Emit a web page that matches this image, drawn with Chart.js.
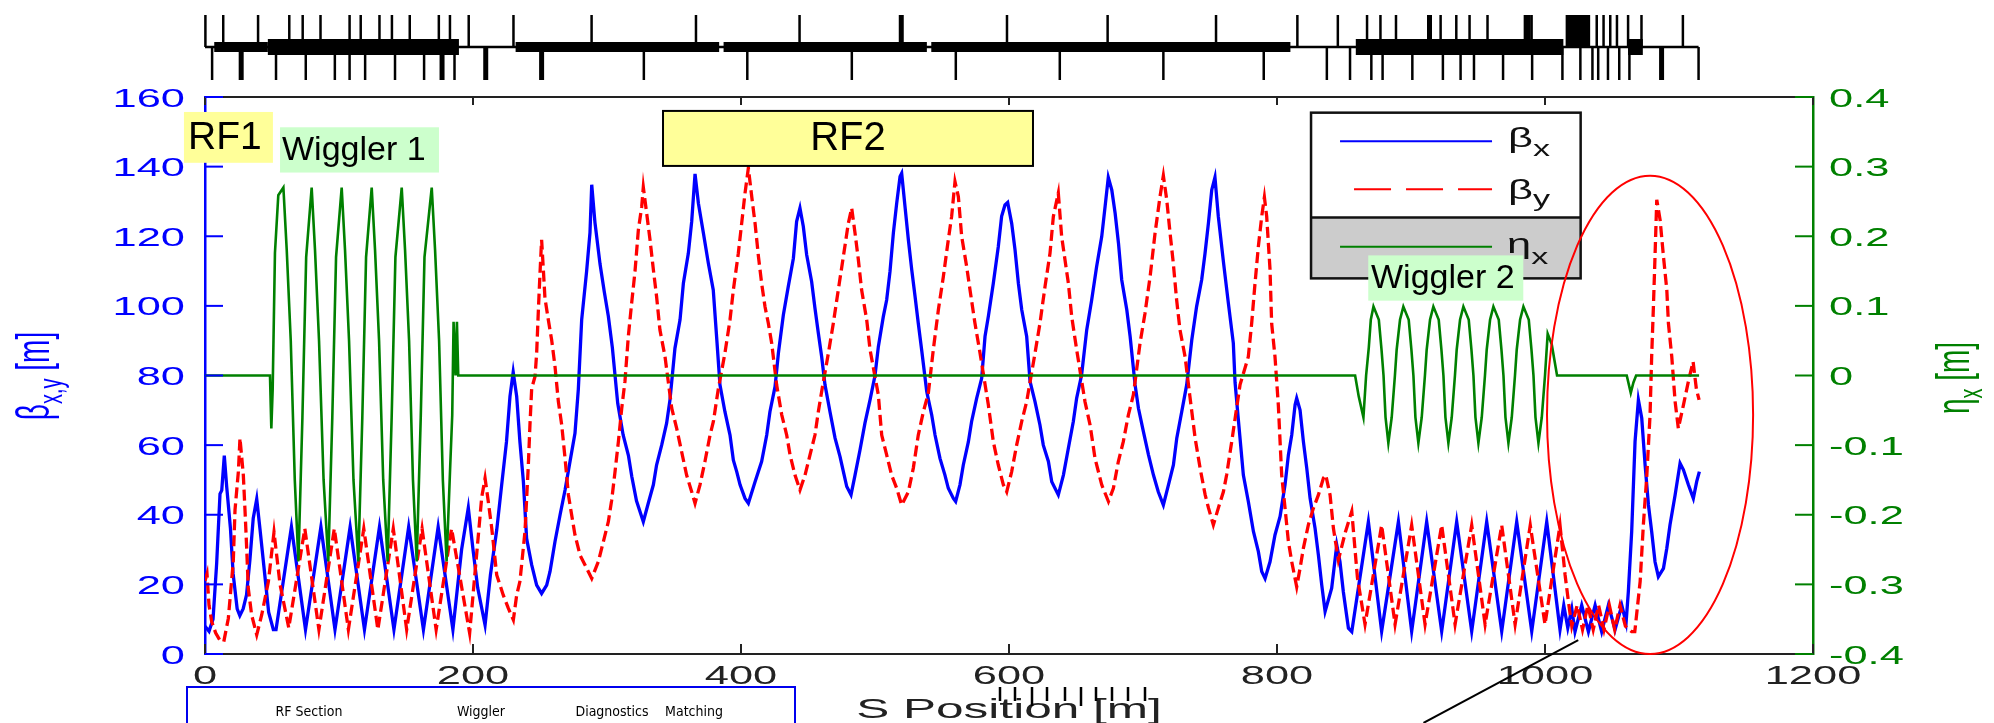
<!DOCTYPE html>
<html lang=en>
<head>
<meta charset=UTF-8>
<title>Beta and dispersion functions</title>
<script src="https://cdn.jsdelivr.net/npm/chart.js"></script>
<style>
    * { margin: 0; padding: 0; }
    body { background: #fff; width: 1994px; height: 723px; overflow: hidden; }
    canvas { display: block; }
</style>
</head>
<body>
<canvas id="optics" width="1994" height="723"></canvas>
<script>
// optics along the line: [s (m), value]
const betaX = [
    [0, 8], [3, 6.5], [6, 10], [8.7, 26], [11.2, 46], [12.5, 47], [14.4, 57], [16.2, 48], [19, 36], [21, 23], [24, 13], [26, 11], [28.5, 13], [31, 17], [33.5, 27], [36, 39], [38.6, 44.5], [41, 36], [44, 25], [47.5, 12], [51, 7],
    [53, 7], [64.5, 36.5], [75, 7], [86.5, 36.5], [97, 7], [108.3, 36.5], [119, 7], [130.2, 36.5], [141, 7], [152, 36.5], [163, 7], [174, 36.5], [185, 7],
    [191.5, 30], [196.5, 42], [200, 30], [203.5, 19], [209, 8.3], [213, 22.7], [217.7, 35.6], [221.4, 48.6], [225, 61], [227.6, 74], [230, 81], [232.6, 74], [235, 61], [237.6, 49.5], [240, 33.2], [243.8, 25.6], [247.5, 19.8], [251.2, 17.4],
    [255, 19.8], [257.5, 23.7], [261.2, 32.3], [265, 40], [268.7, 47.1], [272.4, 55.3], [276.1, 63.4], [278.6, 76], [281.1, 96], [284.8, 110], [287.3, 121], [288.6, 134.8],
    [291, 124], [294.8, 112], [298, 104], [301, 97], [304, 88], [308, 72], [312, 63], [316, 57], [318.5, 51], [322, 44], [327.1, 38],
    [330.8, 43.3], [334.6, 48.6], [337, 54.3], [340.8, 60], [344.5, 66.3], [347, 73], [350.7, 87.8], [354.5, 96], [357, 106.5], [360.7, 115.1], [363.2, 124.2], [365.7, 137.9],
    [368.2, 129.5], [371.9, 121], [375.6, 112.3], [379.3, 104.6], [382, 90], [384.3, 77.3], [388, 69.6], [391.8, 62.9], [394.3, 55.7], [396.8, 52.4], [399.3, 48.6], [403, 44.7], [405.5, 43.3],
    [410.5, 49.5], [415.4, 55.3], [419.2, 62.9], [421.6, 69.6], [425.4, 76.8], [427.9, 86.4], [431.6, 97.4], [435.3, 105.6], [439.1, 113.7], [441.5, 124.2], [444, 128.1],
    [446.5, 122.8], [449, 114.7], [452.7, 107], [455.2, 99.3], [457.7, 92.2], [460.2, 85.4], [462.7, 77.3], [466.4, 69.6], [470.2, 62], [473.9, 56.7], [476.4, 52.4], [478.9, 48.1], [482.1, 45.7],
    [485.1, 51.4], [488.8, 58.6], [492.5, 66.3], [496.3, 73], [500, 80], [502.5, 88.3], [506.2, 96.9], [508.7, 101.7], [511.2, 109.9], [513.7, 120.9], [516.2, 129.5], [518.7, 137.2], [519.9, 138.1],
    [522.4, 128.5], [524.9, 119], [527.4, 110.4], [529.9, 102.7], [532.3, 95], [534.8, 87.4], [538.6, 75.4], [542.3, 68.7], [544.8, 62.9], [548.5, 56.2], [552.2, 51.4], [554.7, 47.6], [558.5, 44.7], [560.2, 43.8],
    [563.4, 48.6], [565.9, 54.3], [569.7, 61], [572.1, 66.8], [575.9, 73.5], [579.6, 79.2], [582.1, 91.2], [584.6, 97], [588.3, 106.5], [592, 117], [594.5, 125.7], [597, 129], [599, 129.7],
    [602, 123.7], [604.5, 116.1], [607, 106.5], [609.5, 98.9], [613.2, 91.2], [615.7, 78.3], [619.4, 72.5], [623.1, 65.8], [625.6, 60], [629.4, 55.3], [631.9, 49.5], [636.8, 45.7],
    [640.6, 51.4], [644.3, 59.1], [648, 66.8], [650.5, 73.5], [654.2, 80.2], [658, 93.1], [661.7, 101.7], [665.4, 111.3], [669.2, 119.9], [671.7, 128.5], [674.1, 136.9],
    [676.7, 133.3], [679.2, 126.6], [681.7, 118], [684.1, 107.5], [687.9, 98.9], [690.4, 91.2], [694.1, 77.3], [696.6, 70.6], [700.3, 63.9], [704.1, 57.2], [707.8, 51.4], [711.4, 46.6], [715.2, 42.8],
    [719, 48.6], [722.7, 54.3], [725.2, 62], [728.9, 69.6], [732.6, 77.3], [736.4, 90.2], [740, 99.8], [743.8, 107.5], [746.3, 115.1], [748.8, 123.7], [751.3, 133.3], [753.7, 136.9],
    [756.2, 125.7], [760, 112.7], [763.7, 100.8], [767.4, 89.3], [768.7, 78], [771, 68], [774.9, 51.4], [778.6, 43.8], [782.4, 35.2], [786.1, 29.4], [788.6, 23.7], [791.1, 21.7],
    [794.8, 26.5], [798.5, 34.2], [802.3, 39.5], [806, 48.6], [808.5, 57.2], [811, 62.9], [813.5, 71.6], [814.7, 73.5],
    [817.2, 70.1], [819.7, 61], [822.2, 53.4], [824.7, 44.7], [828.4, 36.1], [830.9, 28.4], [833.4, 19.8], [835.9, 12.2],
    [840.8, 18.9], [844.6, 31.3], [847, 26.5], [849.5, 17.9], [853.3, 7.4], [855.8, 6.4],
    [868.2, 38], [878.1, 6.5], [890.6, 38], [900.5, 6.5], [911.7, 38], [922.9, 6.5], [934.1, 38], [945.3, 6.5], [956.5, 38], [967.7, 6.5], [978.9, 38], [990.1, 6.5], [1001.3, 38], [1011.2, 7],
    [1014, 14], [1017, 7.5], [1020, 13], [1022.4, 6.4], [1027.4, 14], [1032.4, 6.4], [1037.4, 14], [1042.3, 6.4], [1047.3, 14], [1052.3, 7], [1057.3, 14], [1060.5, 9],
    [1062.2, 17.9], [1064.7, 35.2], [1067.2, 61], [1069.7, 73], [1072.2, 67.7], [1074.7, 54.3], [1077.2, 42.8], [1079.6, 35.2], [1082.1, 26.5], [1084.6, 22.2],
    [1088.4, 24.6], [1090.9, 30.4], [1093.3, 37.1], [1097.1, 45.7], [1100.8, 54.8], [1103.3, 52.9], [1107, 48.6], [1110.7, 44.7], [1113.2, 49.5], [1115.2, 52.4]
];

const betaY = [
    [0, 21], [1.5, 23], [3, 14], [5, 9.3], [8, 6], [11, 4], [14, 3.5], [17.4, 10.2], [21.1, 26.5], [22.4, 41.4], [24.9, 52.4], [26.1, 62], [28.6, 51.4], [29.9, 40.9], [31.1, 30.4], [32.3, 18.9], [34.8, 11.2], [38.6, 5.5], [42.3, 11.2], [47.3, 20.8], [51.5, 35], [56, 20], [62.5, 7.5],
    [74.5, 36], [85, 7], [96.5, 36], [107, 7], [118.5, 36], [129, 7], [140.5, 36], [150.5, 7], [162, 36], [172.5, 7], [184, 36], [197.5, 6],
    [206.5, 45], [209, 50.5], [211.4, 43.8], [214, 36.1], [217.7, 22.7], [222.6, 16.9], [226.4, 13.1], [230.1, 9.8], [232.6, 16.9], [235, 20.8], [238.8, 35.2], [241.3, 54.3], [242.5, 65.8], [243.8, 76.3], [246.3, 79.7], [247.5, 86.4], [248.8, 98.9], [250, 109.4], [251.2, 119],
    [252.5, 110.4], [253.7, 102.2], [256.2, 96], [258.7, 90.2], [261.2, 82.6], [263.7, 72.5], [266.2, 65.8], [268.7, 56.2], [271.2, 45.7], [273.6, 40], [276.1, 34.2], [279.9, 28.4], [283.6, 25.6], [288.6, 21.7],
    [293.5, 26.5], [297.3, 32.3], [301, 38], [303.5, 44.2], [306, 52.4], [308.5, 61], [311, 70.6], [313.4, 78.3], [315.9, 91.2], [318.4, 100.8], [320.9, 109.9], [323.4, 121.8], [325.9, 128.5], [327.1, 134.1],
    [329.6, 126.6], [332.1, 119], [334.6, 110.4], [337, 102.7], [339.5, 93.1], [343.3, 85.4], [348.3, 70.6], [352, 64.8], [355.7, 58.1], [359.4, 51.4], [363.2, 46.6], [365.7, 43.3],
    [369.4, 48.6], [373.1, 55.3], [376.9, 62.9], [379.4, 66.8], [383, 76], [388, 86.4], [391.8, 96], [394.3, 104.6], [398, 115.1], [400.5, 123.7], [403, 132.4], [405.5, 139.6],
    [408, 131.4], [410.5, 123.7], [413, 114.2], [415.4, 106.5], [417.9, 99.8], [420.4, 95], [422.9, 89.3], [426.6, 77.3], [430.4, 68.7], [434.1, 62.9], [436.6, 57.2], [440.3, 51.4], [444, 47.1],
    [447.8, 51.4], [451.5, 57.2], [455.2, 62.9], [457.7, 69.6], [460.2, 75.4], [465.2, 86.4], [468.9, 95], [472.6, 104.6], [476.4, 114.2], [480.1, 123.7], [482.6, 128.1],
    [485.1, 120.9], [487.6, 113.2], [490, 104.6], [493.8, 96], [496.3, 87.4], [502.5, 74.4], [505, 62.9], [508.7, 57.2], [512.4, 51.4], [516.2, 47.6], [519.9, 42.8],
    [524.9, 46.6], [528.6, 53.4], [532.3, 62.9], [536.1, 69.6], [539.8, 74.9], [543.5, 87.4], [547.3, 98.9], [551, 108.4], [554.7, 119], [557.2, 125.7], [559.7, 135.7],
    [562.2, 131.4], [564.7, 119.9], [568.4, 111.3], [570.9, 104.6], [574.6, 95], [578.4, 86.4], [584.6, 71.5], [588.3, 61], [592, 54.3], [595.8, 48.6], [598.3, 46.6],
    [602, 52.4], [605.7, 60], [609.5, 66.8], [613.2, 72.5], [619.4, 86.4], [623.1, 95], [626.9, 105.6], [630.6, 115.1], [633.1, 125.7], [636.8, 132.4],
    [639.3, 119.9], [641.8, 113.2], [644.3, 106.5], [646.8, 96.9], [650.5, 87.4], [656.7, 72.5], [660.5, 65.8], [664.2, 56.2], [669.2, 48.6], [674.2, 43.8],
    [677.9, 47.6], [681.6, 55.3], [685.3, 61], [689.1, 68.7], [692.8, 74.4], [697.8, 89.3], [701.5, 97.9], [705.3, 108.4], [709, 120.9], [712.7, 131.4], [715.2, 137.4],
    [717.7, 130.5], [720.2, 120.9], [722.6, 112.3], [725.1, 101.7], [727.6, 93.1], [731.4, 85.4], [735, 74], [738.9, 62], [742.6, 53.4], [746.4, 45.7], [748.9, 41.9], [752.5, 37.1],
    [756.2, 41.9], [760, 46.6], [762.4, 51.4], [766.2, 61], [772.4, 77.3], [778.6, 85.4], [781.1, 95], [783.6, 106.5], [786.1, 117.1], [788.6, 125.7], [790.6, 131.2],
    [792.3, 125.7], [794.8, 110.4], [796, 95], [798.5, 85.4], [801, 71.5], [802.3, 61], [803.5, 51.4], [806, 41.9], [808.5, 32.3], [811, 26.5], [814.7, 19.3],
    [817.2, 24.6], [819.7, 30.4], [823.4, 37.1], [827.2, 41.9], [830.9, 45.7], [834.6, 50.5], [836.4, 51.4],
    [839.6, 45.7], [842.1, 36.1], [845.8, 27], [851, 35], [855.8, 41], [860, 22], [865.7, 8.5],
    [878.1, 37], [888.1, 8.5], [900.5, 37], [910.5, 8.5], [922.9, 37], [932.9, 8.5], [945.3, 37], [955.3, 8.5], [967.7, 37], [977.7, 8.5], [989, 37], [1000, 8.5], [1011.2, 37],
    [1015, 22.7], [1017.5, 15], [1020, 8], [1024, 14], [1028, 7], [1032, 14], [1036, 7], [1040, 14], [1044, 7], [1048, 14], [1052, 7], [1056, 14], [1060, 8], [1064.7, 6.4], [1067, 6.4],
    [1071, 20.8], [1073.4, 37.1], [1076, 51.4], [1078.4, 68.7], [1079.6, 85.4], [1080.9, 99.8], [1082.1, 114.2], [1083.4, 130.5],
    [1085.9, 124.7], [1088.4, 114.2], [1090.9, 104.6], [1092.1, 95], [1094.6, 85.4], [1097.1, 72.5], [1099.5, 64.8], [1103.3, 71.5], [1107, 78.3], [1110.5, 84], [1113, 76], [1115, 73]
];

const etaX = [
    [0, 0], [48.5, 0], [49.5, -0.076], [50.5, -0.02], [52.2, 0.176], [54.7, 0.259],
    [58.5, 0.27], [61, 0.18], [64, 0.05], [67, -0.15], [69.7, -0.267], [72.7, -0.06], [75.5, 0.17],
    [79.6, 0.27], [82.1, 0.18], [85.1, 0.05], [88.5, -0.15], [92, -0.267], [95, -0.06], [97.8, 0.17],
    [102, 0.27], [104.5, 0.18], [107.5, 0.05], [110.8, -0.15], [114.4, -0.267], [117.4, -0.06], [120.2, 0.17],
    [124.4, 0.27], [126.9, 0.18], [129.9, 0.05], [133, -0.15], [136.3, -0.267], [139.3, -0.06], [142.1, 0.17],
    [146.8, 0.27], [149.3, 0.18], [152.3, 0.05], [155.2, -0.15], [158, -0.267], [161, -0.06], [163.8, 0.17],
    [169.2, 0.27], [171.7, 0.18], [174.7, 0.05], [177.5, -0.15], [180.3, -0.267], [183, -0.13], [184.5, -0.057], [185.5, 0.077], [187, 0], [188, 0.077], [189, 0],
    [858.3, 0], [861, -0.03], [864.5, -0.06], [866.5, 0], [868.5, 0.04], [870, 0.08],
    [872, 0.099], [876, 0.08], [878, 0.037], [879.5, 0], [881, -0.06], [883.1, -0.097], [885.6, -0.06], [888, 0], [889.3, 0.037], [891.8, 0.08],
    [894.3, 0.099], [898.3, 0.08], [900.3, 0.037], [901.8, 0], [903.3, -0.06], [905.5, -0.097], [908, -0.06], [910.4, 0], [911.7, 0.037], [914.2, 0.08],
    [916.7, 0.099], [920.7, 0.08], [922.7, 0.037], [924.2, 0], [925.7, -0.06], [927.9, -0.097], [930.4, -0.06], [932.8, 0], [934.1, 0.037], [936.6, 0.08],
    [939.1, 0.099], [943.1, 0.08], [945.1, 0.037], [946.6, 0], [948.1, -0.06], [950.3, -0.097], [952.8, -0.06], [955.2, 0], [956.5, 0.037], [959, 0.08],
    [961.5, 0.099], [965.5, 0.08], [967.5, 0.037], [969, 0], [970.5, -0.06], [972.7, -0.097], [975.2, -0.06], [977.6, 0], [978.9, 0.037], [981.4, 0.08],
    [983.9, 0.099], [987.9, 0.08], [989.9, 0.037], [991.4, 0], [992.9, -0.06], [995.1, -0.097], [997.6, -0.06], [1000, 0], [1002, 0.06], [1005, 0.045], [1009, 0],
    [1061, 0], [1064, -0.025], [1066, -0.01], [1068, 0], [1115, 0]
];

// axis ticks
const sTicks = [0, 200, 400, 600, 800, 1000, 1200];
const betaTicks = [0, 20, 40, 60, 80, 100, 120, 140, 160];
const etaTicks = [-0.4, -0.3, -0.2, -0.1, 0, 0.1, 0.2, 0.3, 0.4];

// magnet layout above the plot, element s positions (m)
const quadUp = [0.3, 13.6, 39.6, 62.9, 72.9, 86.2, 107.9, 116.2, 130.2, 139.5, 152.8, 174.5, 182.8, 196.8, 230.2, 288.5,
    366.4, 443.7, 519.6, 598.5, 673.6, 754.5, 815.2, 845.4, 867.2, 877.2, 888.8, 913.8, 922.1, 933.8, 943.7, 957.1,
    985, 990, 1038.6, 1043.7, 1048.7, 1053.7, 1062, 1072, 1102.9];
const quadDown = [5.3, 27, 53, 75.2, 96.9, 107.9, 119.5, 141.8, 163.5, 176.9, 186.2, 209.5, 251.2, 327.5,
    404.7, 482.7, 560.3, 637.9, 715.2, 790.1, 837.2, 854.5, 870.4, 878.8, 901, 923.8, 937, 947, 968.7, 990.4,
    1013, 1026.4, 1035.4, 1039.7, 1047, 1055.4, 1063, 1087, 1114.6];
const quadUpWide = [519.6, 913.8, 987.5];
const quadDownWide = [27, 176.9, 209.5, 251.2, 1087];
const blocksThin = [[6.9, 46.9], [231.8, 383.7], [387, 538.7], [542, 810]];
const blocksWide = [[46.9, 189.5], [858.8, 1013.7], [1062, 1073]];
const blocksTall = [[1015.4, 1033.7]];
const latticeEnd = 1114.6;

const BLUE = '#0000ff', RED = '#ff0000', GREEN = '#008000';
const AXIS_FONT = '"Liberation Sans", Arial, sans-serif';
const WIDE = 1.67;   // the axis lettering is drawn horizontally widened

// boxes naming the sections, placed in (s, beta) units
const sectionBoxes = [
    { text: 'RF1', s0: -15.7, s1: 50.7, b0: 141.1, b1: 155.7, fill: '#ffff99', edge: false, size: 39, textX: 188 },
    { text: 'Wiggler 1', s0: 56, s1: 174.6, b0: 138.3, b1: 151.3, fill: '#ccffcc', edge: false, size: 34, textX: 282 },
    { text: 'RF2', s0: 341.8, s1: 617.9, b0: 140.2, b1: 156, fill: '#ffff99', edge: true, size: 40 },
    { text: 'Wiggler 2', s0: 868.1, s1: 983.8, b0: 101.5, b1: 114.5, fill: '#ccffcc', edge: false, size: 34, textX: 1371 }
];

const fmtEta = v => { const r = Math.round(v * 10) / 10; return r === 0 ? '0' : String(r); };

function line(ctx, x0, y0, x1, y1) {
    ctx.beginPath();
    ctx.moveTo(x0, y0);
    ctx.lineTo(x1, y1);
    ctx.stroke();
}

// widened text, parts = [text, size, dy]; rotated text reads upwards
function wideText(ctx, parts, x, y, opt) {
    ctx.save();
    ctx.translate(x, y);
    if (opt.rotate) {
        ctx.rotate(-Math.PI / 2);
        ctx.scale(1, opt.sx);
    } else {
        ctx.scale(opt.sx, 1);
    }
    ctx.textAlign = 'left';
    ctx.textBaseline = 'alphabetic';
    let w = 0;
    for (const p of parts) {
        ctx.font = p[1] + 'px ' + AXIS_FONT;
        w += ctx.measureText(p[0]).width;
    }
    let cx = opt.align === 'center' ? -w / 2 : opt.align === 'right' ? -w : 0;
    for (const p of parts) {
        ctx.font = p[1] + 'px ' + AXIS_FONT;
        ctx.fillText(p[0], cx, p[2]);
        cx += ctx.measureText(p[0]).width;
    }
    ctx.restore();
}

const decorations = {
    id: 'decorations',
    afterDraw(chart) {
        const { ctx, chartArea: a, scales } = chart;
        const X = v => scales.x.getPixelForValue(v);
        const Y = v => scales.y.getPixelForValue(v);
        const Y2 = v => scales.y2.getPixelForValue(v);
        ctx.save();
        ctx.lineCap = 'butt';

        // frame top and inward ticks
        ctx.strokeStyle = '#222';
        ctx.lineWidth = 2;
        line(ctx, a.left, a.top, a.right, a.top);
        scales.x.ticks.forEach(t => {
            line(ctx, X(t.value), a.bottom, X(t.value), a.bottom - 10);
            line(ctx, X(t.value), a.top, X(t.value), a.top + 8);
        });
        ctx.strokeStyle = BLUE;
        scales.y.ticks.forEach(t => line(ctx, a.left, Y(t.value), a.left + 18, Y(t.value)));
        ctx.strokeStyle = GREEN;
        scales.y2.ticks.forEach(t => line(ctx, a.right, Y2(t.value), a.right - 18, Y2(t.value)));

        // tick labels
        ctx.fillStyle = '#222';
        scales.x.ticks.forEach(t => wideText(ctx, [[String(t.value), 26, 0]], X(t.value), a.bottom + 30, { sx: WIDE, align: 'center' }));
        ctx.fillStyle = BLUE;
        scales.y.ticks.forEach(t => wideText(ctx, [[String(t.value), 26, 0]], a.left - 20, Y(t.value) + 9.5, { sx: WIDE, align: 'right' }));
        ctx.fillStyle = GREEN;
        scales.y2.ticks.forEach(t => wideText(ctx, [[fmtEta(t.value), 26, 0]], a.right + 16, Y2(t.value) + 9.5, { sx: WIDE, align: 'left' }));

        // axis titles
        ctx.fillStyle = BLUE;
        wideText(ctx, [['β', 28, 0], ['x,y', 20, 8], [' [m]', 28, 0]], 49, 376, { sx: WIDE, align: 'center', rotate: true });
        ctx.fillStyle = GREEN;
        wideText(ctx, [['η', 28, 0], ['x', 20, 8], [' [m]', 28, 0]], 1969, 378, { sx: WIDE, align: 'center', rotate: true });
        ctx.fillStyle = '#222';
        wideText(ctx, [['S Position [m]', 28, 0]], X(600), 718, { sx: 1.77, align: 'center' });

        // magnet layout strip
        const yb = 47;
        ctx.strokeStyle = '#000';
        ctx.fillStyle = '#000';
        ctx.lineWidth = 2.5;
        line(ctx, X(0), yb, X(latticeEnd), yb);
        quadUp.forEach(s => line(ctx, X(s), yb, X(s), 15));
        quadDown.forEach(s => line(ctx, X(s), yb, X(s), 80));
        ctx.lineWidth = 5;
        quadUpWide.forEach(s => line(ctx, X(s), yb, X(s), 15));
        quadDownWide.forEach(s => line(ctx, X(s), yb, X(s), 80));
        blocksThin.forEach(([s0, s1]) => ctx.fillRect(X(s0), yb - 5, X(s1) - X(s0), 10));
        blocksWide.forEach(([s0, s1]) => ctx.fillRect(X(s0), yb - 8, X(s1) - X(s0), 16));
        blocksTall.forEach(([s0, s1]) => ctx.fillRect(X(s0), 15, X(s1) - X(s0), yb - 15));

        // legend
        const lx0 = X(825.4), lx1 = X(1026.6), ly0 = Y(155.5), ly1 = Y(107.9), lsep = Y(125.4);
        ctx.fillStyle = '#fff';
        ctx.fillRect(lx0, ly0, lx1 - lx0, lsep - ly0);
        ctx.fillStyle = '#cccccc';
        ctx.fillRect(lx0, lsep, lx1 - lx0, ly1 - lsep);
        ctx.strokeStyle = '#111';
        ctx.lineWidth = 2.5;
        ctx.strokeRect(lx0, ly0, lx1 - lx0, ly1 - ly0);
        line(ctx, lx0, lsep, lx1, lsep);
        ctx.lineWidth = 2;
        ctx.strokeStyle = BLUE;
        line(ctx, lx0 + 29, ly0 + 28.5, lx0 + 181, ly0 + 28.5);
        ctx.strokeStyle = RED;
        ctx.setLineDash([37, 15]);
        line(ctx, lx0 + 43, ly0 + 76.5, lx0 + 181, ly0 + 76.5);
        ctx.setLineDash([]);
        ctx.strokeStyle = GREEN;
        line(ctx, lx0 + 29, ly0 + 134, lx0 + 181, ly0 + 134);
        ctx.fillStyle = '#111';
        wideText(ctx, [['β', 28, 0], ['x', 22, 9]], lx0 + 197, ly0 + 34.5, { sx: 1.55 });
        wideText(ctx, [['β', 28, 0], ['y', 22, 7]], lx0 + 197, ly0 + 86.5, { sx: 1.55 });
        wideText(ctx, [['η', 28, 0], ['x', 22, 11]], lx0 + 196, ly0 + 140, { sx: 1.55 });

        // section boxes
        ctx.textBaseline = 'middle';
        sectionBoxes.forEach(b => {
            const x0 = X(b.s0), x1 = X(b.s1), y0 = Y(b.b1), y1 = Y(b.b0);
            ctx.fillStyle = b.fill;
            ctx.fillRect(x0, y0, x1 - x0, y1 - y0);
            if (b.edge) {
                ctx.strokeStyle = '#000';
                ctx.lineWidth = 2;
                ctx.strokeRect(x0, y0, x1 - x0, y1 - y0);
            }
            ctx.fillStyle = '#000';
            ctx.font = b.size + 'px "Liberation Sans"';
            if (b.textX) {
                ctx.textAlign = 'left';
                ctx.fillText(b.text, b.textX, (y0 + y1) / 2 + 1);
            } else {
                ctx.textAlign = 'center';
                ctx.fillText(b.text, (x0 + x1) / 2, (y0 + y1) / 2 + 1);
            }
        });
        ctx.textAlign = 'left';
        ctx.textBaseline = 'alphabetic';

        // highlighted end of the line
        ctx.strokeStyle = RED;
        ctx.lineWidth = 2;
        const ecx = X(1078.4), ecy = Y(68.7);
        ctx.beginPath();
        ctx.ellipse(ecx, ecy, X(1078.4 + 76.9) - ecx, ecy - Y(68.7 + 68.7), 0, 0, Math.PI * 2);
        ctx.stroke();
        ctx.strokeStyle = '#000';
        line(ctx, X(909.3), Y(-19.8), X(1024.8), Y(4.0));

        // lower layout panel, partly shown
        ctx.strokeStyle = '#0000ee';
        ctx.lineWidth = 2;
        ctx.strokeRect(187, 687, 608, 60);
        ctx.fillStyle = '#000';
        ctx.font = '14px "Liberation Sans Narrow", "DejaVu Sans Condensed", sans-serif';
        ctx.textAlign = 'center';
        ctx.textBaseline = 'middle';
        [['RF Section', 309], ['Wiggler', 481], ['Diagnostics', 612], ['Matching', 694]].forEach(([t, x]) => ctx.fillText(t, x, 712));
        ctx.strokeStyle = '#000';
        ctx.lineWidth = 2.5;
        [1000, 1015, 1032, 1047, 1065, 1081, 1096, 1112, 1128, 1145].forEach((x, i) => line(ctx, x, 687, x, i === 2 || i === 5 ? 706 : 701));
        ctx.restore();
    }
};

new Chart(document.getElementById('optics'), {
    type: 'line',
    data: {
        datasets: [
            { label: 'βx', data: betaX.map(([x, y]) => ({ x, y })), yAxisID: 'y', borderColor: BLUE, borderWidth: 3.3, order: 3 },
            { label: 'βy', data: betaY.map(([x, y]) => ({ x, y })), yAxisID: 'y', borderColor: RED, borderWidth: 3.3, borderDash: [11, 5], order: 2 },
            { label: 'ηx', data: etaX.map(([x, y]) => ({ x, y })), yAxisID: 'y2', borderColor: GREEN, borderWidth: 2.6, order: 1 }
        ]
    },
    options: {
        responsive: false,
        animation: false,
        devicePixelRatio: 1,
        layout: { padding: { top: 97, left: 0, right: 0, bottom: 0 } },
        elements: { point: { radius: 0 }, line: { tension: 0, borderJoinStyle: 'miter' } },
        plugins: { legend: { display: false }, tooltip: { enabled: false } },
        scales: {
            x: {
                type: 'linear', min: 0, max: 1200,
                afterBuildTicks: s => { s.ticks = sTicks.map(value => ({ value })); },
                afterFit: s => { s.height = 69; },
                grid: { display: false, drawTicks: false },
                border: { display: true, color: '#222', width: 2 },
                ticks: { display: false }
            },
            y: {
                position: 'left', min: 0, max: 160,
                afterBuildTicks: s => { s.ticks = betaTicks.map(value => ({ value })); },
                afterFit: s => { s.width = 205; },
                grid: { display: false, drawTicks: false },
                border: { display: true, color: BLUE, width: 2.5 },
                ticks: { display: false }
            },
            y2: {
                position: 'right', min: -0.4, max: 0.4,
                afterBuildTicks: s => { s.ticks = etaTicks.map(value => ({ value })); },
                afterFit: s => { s.width = 181; },
                grid: { display: false, drawTicks: false },
                border: { display: true, color: GREEN, width: 2.5 },
                ticks: { display: false }
            }
        }
    },
    plugins: [decorations]
});
</script>
</body>
</html>
